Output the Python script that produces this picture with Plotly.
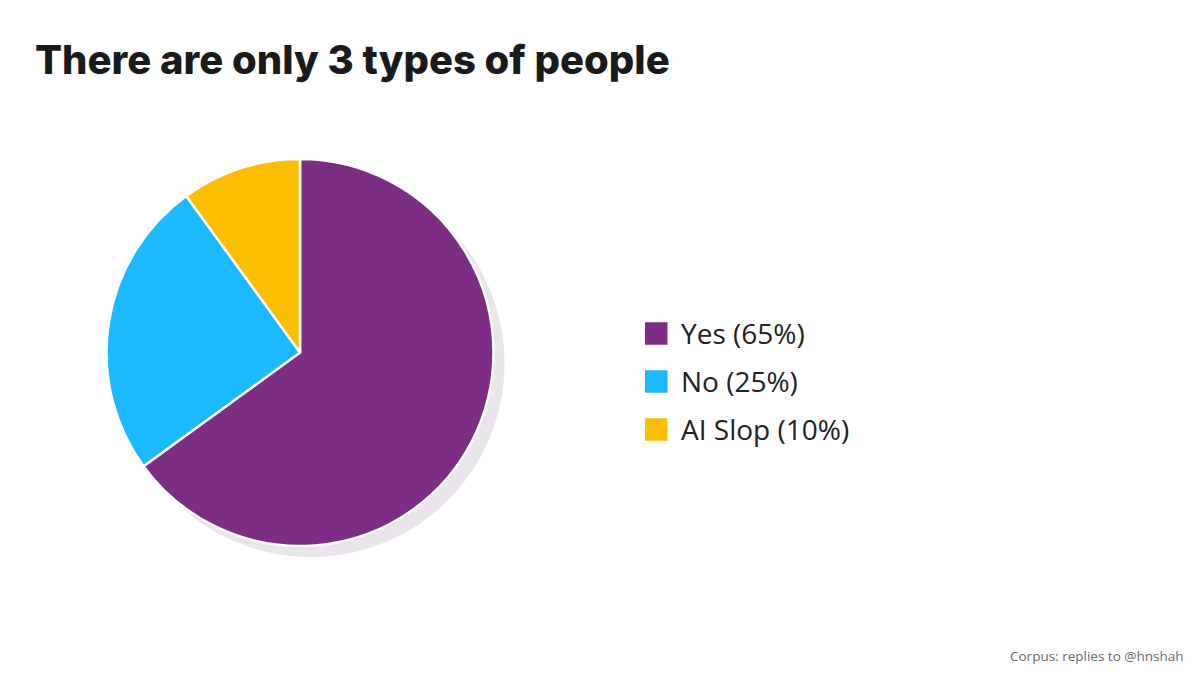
import plotly.graph_objects as go

labels = ["Yes", "No", "AI Slop"]
values = [65, 25, 10]
colors = ["#7B2E84", "#1BB9FF", "#FBBF00"]
legend_text = [f"{l} ({v}%)" for l, v in zip(labels, values)]

W, H = 1200, 675
cx, cy, r = 300, 352.5, 193.5
sh = 11  # shadow offset


def dom(x, y, rad):
    return dict(x=[(x - rad) / W, (x + rad) / W], y=[(H - y - rad) / H, (H - y + rad) / H])


fig = go.Figure()
# shadow
fig.add_trace(go.Pie(values=[1], labels=["shadow"], domain=dom(cx + sh, cy + sh, r),
                     marker=dict(colors=["#E9E5EA"], line=dict(width=0)),
                     textinfo="none", hoverinfo="skip", showlegend=False, sort=False))
fig.add_trace(go.Pie(values=values, labels=labels, domain=dom(cx, cy, r),
                     marker=dict(colors=colors, line=dict(color="white", width=2.5)),
                     textinfo="none", sort=False, direction="clockwise", rotation=0,
                     showlegend=False))

# legend built from data
lx, ly0, dy, sq = 645, 333.5, 48, 22.5
shapes = []
annotations = []
for i, (t, c) in enumerate(zip(legend_text, colors)):
    yc = ly0 + i * dy
    shapes.append(dict(type="rect", xref="paper", yref="paper",
                       x0=lx / W, x1=(lx + sq) / W,
                       y0=(H - yc - sq / 2) / H, y1=(H - yc + sq / 2) / H,
                       fillcolor=c, line=dict(width=0)))
    annotations.append(dict(text=t, xref="paper", yref="paper", x=679 / W, y=(H - yc + 1) / H,
                            xanchor="left", yanchor="middle", showarrow=False,
                            font=dict(family="Open Sans", size=28, color="#222222")))

annotations.append(dict(text="Corpus: replies to @hnshah", xref="paper", yref="paper",
                        x=1185 / W, y=(H - 656) / H, xanchor="right", yanchor="middle",
                        showarrow=False, font=dict(family="Open Sans", size=13.5, color="#6b6b6b")))

fig.update_layout(
    width=W, height=H,
    margin=dict(l=0, r=0, t=0, b=0),
    paper_bgcolor="white", plot_bgcolor="white",
    title=dict(text="There are only 3 types of people", x=35 / W, xanchor="left",
               y=1 - 60 / H, yanchor="middle", xref="paper", yref="container",
               font=dict(family="Inter", size=40, color="#1a1a1a", weight=800)),
    shapes=shapes, annotations=annotations,
)

fig.write_html("out.html")
